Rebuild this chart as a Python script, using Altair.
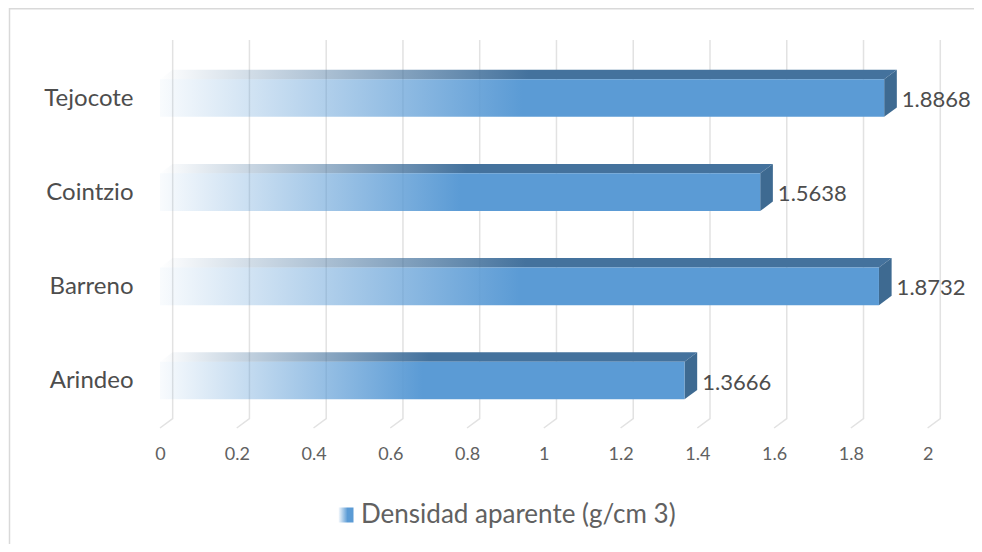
import json
import altair as alt
import pandas as pd

# ---- data ----
categories = ["Arindeo", "Barreno", "Cointzio", "Tejocote"]
values = [1.3666, 1.8732, 1.5638, 1.8868]
x_ticks = [0, 0.2, 0.4, 0.6, 0.8, 1, 1.2, 1.4, 1.6, 1.8, 2]
series_name = "Densidad aparente (g/cm 3)"

# ---- 3D geometry (style constants, in scale units) ----
X_DOMAIN = [0, 2.1]
Y_DOMAIN = [-0.504, 3.616]
DX = 0.033   # depth offset along x
DY = 0.1     # depth offset along y
HALF = 0.2   # half bar thickness

FONT = "Lato"
WEIGHT = 400
BLUE = "#5B9BD5"
DARK_TEXT = "#4D4D4D"
MID_TEXT = "#616161"

front_rows, top_rows, side_rows, label_rows = [], [], [], []
for i, (cat, v) in enumerate(zip(categories, values)):
    front_rows += [
        {"cat": cat, "x": 0, "y": i - HALF, "y2": i + HALF},
        {"cat": cat, "x": v, "y": i - HALF, "y2": i + HALF},
    ]
    top_rows += [
        {"cat": cat, "y": i + HALF, "x": 0, "x2": v},
        {"cat": cat, "y": i + HALF + DY, "x": DX, "x2": v + DX},
    ]
    side_rows += [
        {"cat": cat, "x": v, "y": i - HALF, "y2": i + HALF},
        {"cat": cat, "x": v + DX, "y": i - HALF + DY, "y2": i + HALF + DY},
    ]
    label_rows.append({"cat": cat, "x": v + DX, "xm": v * 0.8, "y": i,
                       "value": v, "series": series_name})

grid_rows = []
for t in x_ticks:
    grid_rows += [
        {"t": t, "k": 0, "x": t + DX, "y": Y_DOMAIN[1]},
        {"t": t, "k": 1, "x": t + DX, "y": Y_DOMAIN[0] + DY},
        {"t": t, "k": 2, "x": t, "y": Y_DOMAIN[0]},
    ]

front_df = pd.DataFrame(front_rows)
top_df = pd.DataFrame(top_rows)
side_df = pd.DataFrame(side_rows)
label_df = pd.DataFrame(label_rows)
grid_df = pd.DataFrame(grid_rows)

x_scale = alt.Scale(domain=X_DOMAIN, nice=False, zero=False)
y_scale = alt.Scale(domain=Y_DOMAIN, nice=False, zero=False)

x_axis = alt.Axis(
    values=x_ticks, format="~g", title=None, domain=False, ticks=False, tickSize=0,
    grid=False, labelFlush=False, labelOverlap=False, labelFont=FONT,
    labelFontWeight=WEIGHT, labelFontSize=18, labelColor=MID_TEXT,
    labelBaseline="middle", labelPadding=26,
)
label_expr = json.dumps(categories) + "[datum.value]"
y_axis = alt.Axis(
    values=list(range(len(categories))), labelExpr=label_expr, title=None,
    domain=False, ticks=False, tickSize=0, grid=False, labelOverlap=False,
    labelFont=FONT, labelFontWeight=WEIGHT, labelFontSize=24,
    labelColor=DARK_TEXT, labelPadding=27,
)


def hgrad(c0, c1, mid):
    return {
        "gradient": "linear", "x1": 0, "x2": 1, "y1": 0, "y2": 0,
        "stops": [
            {"offset": 0, "color": c0},
            {"offset": mid, "color": c1},
            {"offset": 1, "color": c1},
        ],
    }


front_grad = hgrad("rgba(91,155,213,0.04)", BLUE, 0.5)
top_grad = hgrad("rgba(68,114,157,0.0)", "#44729D", 0.5)
legend_grad = hgrad("rgba(91,155,213,0.05)", BLUE, 0.6)

frame = alt.Chart(pd.DataFrame({"a": [0]})).mark_rect(
    filled=False, stroke="#D9D9D9", strokeWidth=1.5
).encode(
    x=alt.value(-150.5), x2=alt.value(3000), y=alt.value(-31.2), y2=alt.value(3000)
)

grid = alt.Chart(grid_df).mark_line(color="#E2E2E2", strokeWidth=1.5).encode(
    x=alt.X("x:Q", scale=x_scale, axis=x_axis),
    y=alt.Y("y:Q", scale=y_scale, axis=y_axis),
    detail="t:N",
    order="k:O",
)

top = alt.Chart(top_df).mark_area(orient="horizontal", fill=top_grad).encode(
    y=alt.Y("y:Q", scale=y_scale, axis=y_axis, stack=False),
    x=alt.X("x:Q", scale=x_scale, axis=x_axis, stack=False),
    x2="x2:Q",
    detail="cat:N",
)

side = alt.Chart(side_df).mark_area(orient="vertical", color="#3E6A91").encode(
    x=alt.X("x:Q", scale=x_scale, axis=x_axis, stack=False),
    y=alt.Y("y:Q", scale=y_scale, axis=y_axis, stack=False),
    y2="y2:Q",
    detail="cat:N",
)

# series key: a small mark hidden behind the opaque part of each bar, it only feeds the legend
legend_layer = alt.Chart(label_df).mark_point(
    filled=True, fill=legend_grad, opacity=1, size=20
).encode(
    x=alt.X("xm:Q", scale=x_scale, axis=x_axis),
    y=alt.Y("y:Q", scale=y_scale, axis=y_axis),
    shape=alt.Shape(
        "series:N",
        scale=alt.Scale(domain=[series_name], range=["square"]),
        title=None,
        legend=alt.Legend(
            orient="none", legendX=173, legendY=462, symbolType="square",
            symbolSize=225, symbolStrokeWidth=0, symbolOpacity=1,
            labelFont=FONT, labelFontWeight=WEIGHT, labelFontSize=26,
            labelColor=MID_TEXT, labelLimit=600, labelOffset=2, padding=0,
        ),
    ),
)

front = alt.Chart(front_df).mark_area(orient="vertical", fill=front_grad).encode(
    x=alt.X("x:Q", scale=x_scale, axis=x_axis, stack=False),
    y=alt.Y("y:Q", scale=y_scale, axis=y_axis, stack=False),
    y2="y2:Q",
    detail="cat:N",
)

labels = alt.Chart(label_df).mark_text(
    align="left", baseline="middle", dx=5, dy=2, font=FONT, fontWeight=WEIGHT,
    fontSize=22, color=DARK_TEXT,
).encode(
    x=alt.X("x:Q", scale=x_scale, axis=x_axis),
    y=alt.Y("y:Q", scale=y_scale, axis=y_axis),
    text=alt.Text("value:Q", format=".4f"),
)

chart = alt.layer(frame, grid, top, side, legend_layer, front, labels).properties(
    width=806,
    height=388,
    autosize=alt.AutoSizeParams(type="none"),
    padding={"left": 152, "top": 32, "right": 8, "bottom": 116},
    background="white",
).configure_view(strokeWidth=0)

chart.save("out.html", embed_options={"renderer": "svg", "actions": False})
